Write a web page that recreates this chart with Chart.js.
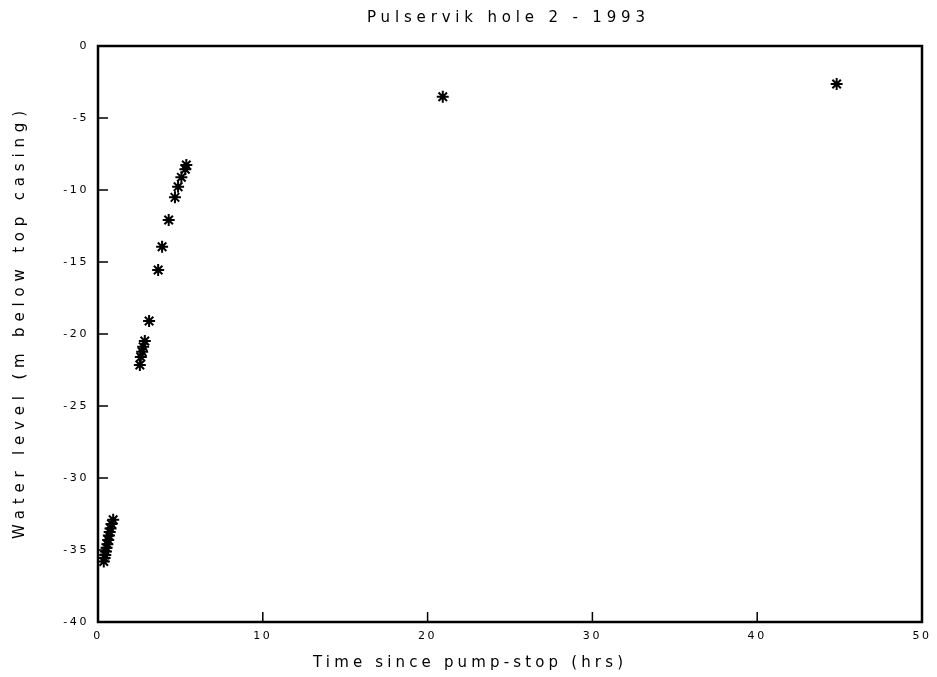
<!DOCTYPE html>
<html>
<head>
<meta charset="utf-8">
<script src="https://cdn.jsdelivr.net/npm/chart.js@4/dist/chart.umd.min.js"></script>
<style>
  html, body { margin: 0; padding: 0; background: #fff; }
  #wrap { width: 937px; height: 677px; }
</style>
</head>
<body>
<div id="wrap"><canvas id="c" width="937" height="677"></canvas></div>
<script>
const chartTitle = "Pulservik hole 2 - 1993";
const xAxisTitle = "Time since pump-stop (hrs)";
const yAxisTitle = "Water level (m below top casing)";
const xTicks = [0, 10, 20, 30, 40, 50];
const yTicks = [0, -5, -10, -15, -20, -25, -30, -35, -40];

const timeHrs = [0.35, 0.40, 0.44, 0.48, 0.52, 0.57, 0.62, 0.66, 0.71, 0.76, 0.82, 0.92,
                 2.54, 2.60, 2.68, 2.74, 2.84, 3.10, 3.65, 3.89, 4.29, 4.67, 4.86, 5.06, 5.30, 5.36,
                 20.92, 44.82];
const waterLevel = [-35.8, -35.55, -35.35, -35.1, -34.85, -34.6, -34.3, -34.0, -33.75, -33.5, -33.2, -32.9,
                    -22.15, -21.6, -21.23, -20.88, -20.49, -19.10, -15.56, -13.94, -12.08, -10.51, -9.77, -9.12, -8.56, -8.26,
                    -3.52, -2.64];

const points = timeHrs.map((t, i) => ({ x: t, y: waterLevel[i] }));
const FONT = '"DejaVu Sans", sans-serif';

function spacedText(ctx, text, x, y, targetWidth) {
  // letter spacing chosen so that the text spans targetWidth
  ctx.letterSpacing = '0px';
  const w = ctx.measureText(text).width;
  const ls = (targetWidth - w) / (text.length - 1);
  ctx.letterSpacing = ls + 'px';
  // canvas adds trailing spacing; compensate
  ctx.fillText(text, x + ls / 2, y);
}

const spacingPlugin = {
  id: 'spacing',
  beforeDraw(chart) { chart.ctx.letterSpacing = '2.6px'; },
  afterDraw(chart) {
    const ctx = chart.ctx;
    const a = chart.chartArea;
    const xs = chart.scales.x, ys = chart.scales.y;
    ctx.save();
    ctx.strokeStyle = '#000';
    ctx.lineWidth = 2.5;
    ctx.strokeRect(a.left, a.top, a.right - a.left, a.bottom - a.top);
    ctx.lineWidth = 1.5;
    ctx.beginPath();
    xTicks.forEach(v => {
      const px = xs.getPixelForValue(v);
      ctx.moveTo(px, a.bottom); ctx.lineTo(px, a.bottom - 10);
    });
    yTicks.forEach(v => {
      const py = ys.getPixelForValue(v);
      ctx.moveTo(a.left, py); ctx.lineTo(a.left + 10, py);
    });
    ctx.stroke();
    ctx.fillStyle = '#000';
    ctx.textAlign = 'center';
    ctx.textBaseline = 'middle';
    ctx.font = '15px ' + FONT;
    spacedText(ctx, chartTitle, 506, 18, 278);
    spacedText(ctx, xAxisTitle, 468, 663, 310);
    ctx.save();
    ctx.translate(20, 325);
    ctx.rotate(-Math.PI / 2);
    spacedText(ctx, yAxisTitle, 0, 0, 428);
    ctx.restore();
    ctx.restore();
  }
};

new Chart(document.getElementById('c'), {
  type: 'scatter',
  data: {
    datasets: [{
      data: points,
      pointStyle: 'star',
      pointRadius: 6,
      pointBorderWidth: 2,
      borderColor: '#000',
      backgroundColor: '#000',
      showLine: false
    }]
  },
  options: {
    responsive: false,
    animation: false,
    events: [],
    layout: { padding: { top: 46, right: 12, left: 0, bottom: 0 } },
    plugins: { legend: { display: false }, tooltip: { enabled: false } },
    scales: {
      x: {
        type: 'linear', min: 0, max: 50,
        afterBuildTicks(s) { s.ticks = xTicks.map(v => ({ value: v })); },
        afterFit(s) { s.height = 55; },
        grid: { display: false, drawTicks: false },
        border: { display: false },
        ticks: { color: '#000', font: { family: FONT, size: 11 }, padding: 8, maxRotation: 0 },
        title: { display: false }
      },
      y: {
        type: 'linear', min: -40, max: 0,
        afterBuildTicks(s) { s.ticks = yTicks.map(v => ({ value: v })); },
        afterFit(s) { s.width = 98; },
        grid: { display: false, drawTicks: false },
        border: { display: false },
        ticks: { color: '#000', font: { family: FONT, size: 11 }, padding: 9 },
        title: { display: false }
      }
    }
  },
  plugins: [spacingPlugin]
});
</script>
</body>
</html>
